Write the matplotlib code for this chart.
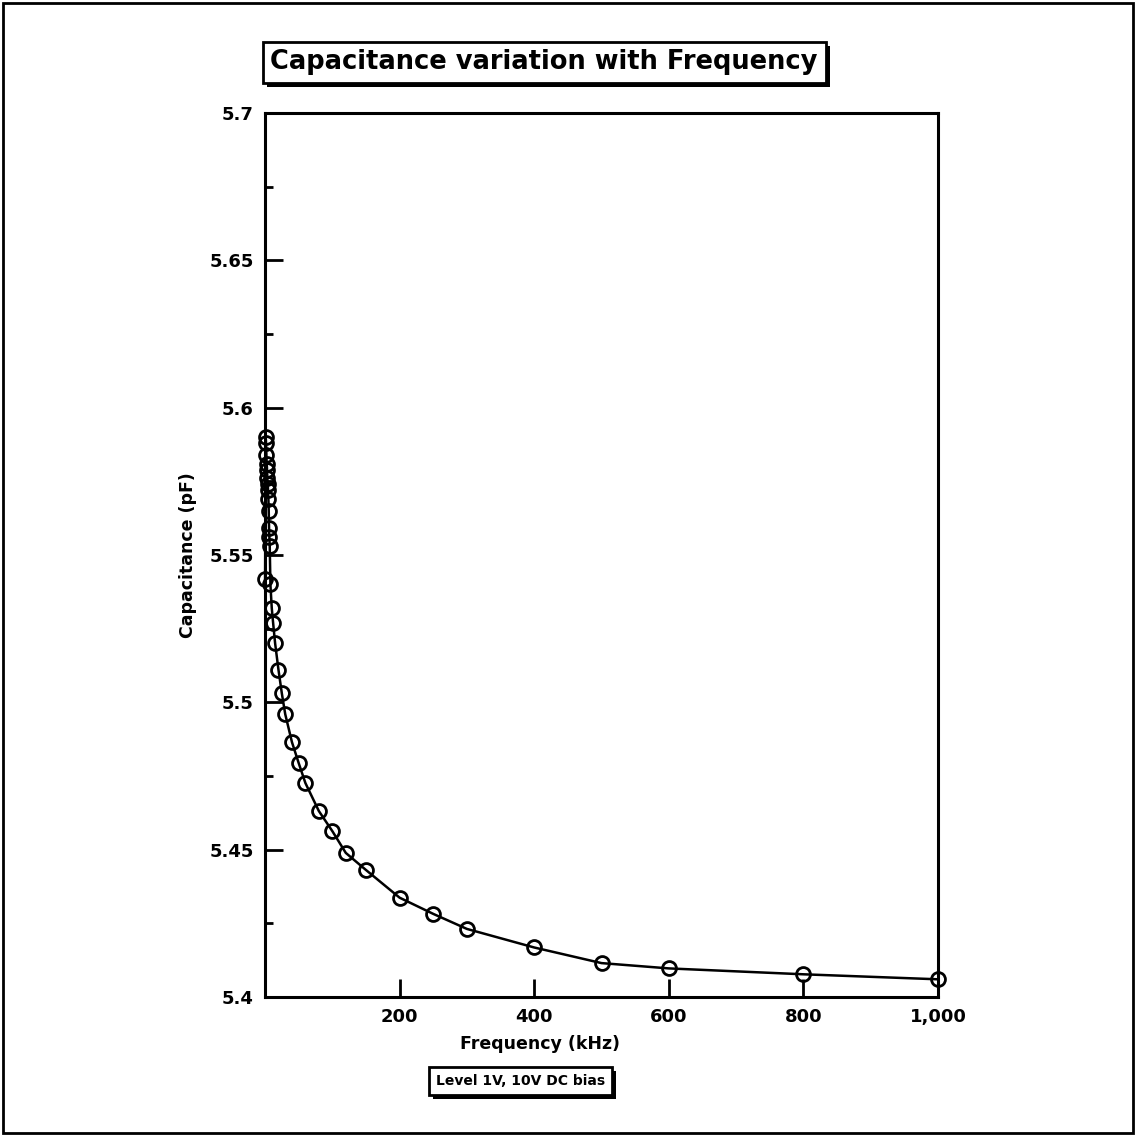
import matplotlib
matplotlib.use("Agg")
import matplotlib.pyplot as plt
import matplotlib.patheffects as pe
from matplotlib.patches import Rectangle
from matplotlib.ticker import FixedLocator, MultipleLocator

# Measured capacitance vs. frequency (1 V level, 10 V DC bias)
freq_khz = [0.1, 1, 1.5, 2, 2.5, 3, 3.5, 4, 4.5, 5, 5.5, 6, 6.5, 7,
            8, 10, 12, 15, 20, 25, 30, 40, 50, 60, 80, 100, 120, 150,
            200, 250, 300, 400, 500, 600, 800, 1000]
cap_pf = [5.542, 5.590, 5.588, 5.584, 5.581, 5.579, 5.576, 5.574, 5.572, 5.569,
          5.565, 5.559, 5.556, 5.553, 5.540, 5.532, 5.527, 5.520, 5.511, 5.503,
          5.496, 5.4865, 5.4794, 5.4726, 5.4631, 5.4563, 5.4489, 5.4431,
          5.4337, 5.4282, 5.4231, 5.4168, 5.4115, 5.4097, 5.4077, 5.4060]

x_ticks = [200, 400, 600, 800, 1000]
x_tick_labels = ["200", "400", "600", "800", "1,000"]
y_ticks = [5.4, 5.45, 5.5, 5.55, 5.6, 5.65, 5.7]
y_tick_labels = ["5.4", "5.45", "5.5", "5.55", "5.6", "5.65", "5.7"]

title_text = "Capacitance variation with Frequency"
x_label = "Frequency (kHz)"
y_label = "Capacitance (pF)"
note_text = "Level 1V, 10V DC bias"

plt.rcParams["font.family"] = ["DejaVu Sans"]
plt.rcParams["font.weight"] = "bold"

fig = plt.figure(figsize=(11.36, 11.35), dpi=100)
ax = fig.add_axes([0.2333, 0.1216, 0.5924, 0.7788])

ax.plot(freq_khz, cap_pf, color="black", lw=1.8, marker="o", ms=10,
        mfc="none", mec="black", mew=2.0, clip_on=False, zorder=3)

ax.set_xlim(0, 1000)
ax.set_ylim(5.4, 5.7)

ax.xaxis.set_major_locator(FixedLocator(x_ticks))
ax.set_xticklabels(x_tick_labels, fontsize=13, fontweight="bold")
ax.yaxis.set_major_locator(FixedLocator(y_ticks))
ax.set_yticklabels(y_tick_labels, fontsize=13, fontweight="bold")
ax.yaxis.set_minor_locator(MultipleLocator(0.025))

ax.tick_params(axis="both", which="major", direction="in", length=13,
               width=2, pad=8, colors="black")
ax.tick_params(axis="y", which="minor", direction="in", length=6, width=2)
ax.tick_params(top=False, right=False, which="both")
for s in ax.spines.values():
    s.set_linewidth(2.2)

fig.text(0.1655, 0.5108, y_label, rotation=90, ha="center",
         va="center", fontsize=12.5, fontweight="bold")
fig.text(0.475, 0.080, x_label, ha="center", va="center",
         fontsize=12.5, fontweight="bold")

shadow = [pe.SimplePatchShadow(offset=(3, -3), shadow_rgbFace="black",
                               alpha=1.0), pe.Normal()]

t = fig.text(0.479, 0.945, title_text, ha="center", va="center",
             fontsize=18.5, fontweight="bold",
             bbox=dict(boxstyle="square,pad=0.3", fc="white", ec="black",
                       lw=2))
t.get_bbox_patch().set_path_effects(shadow)

n = fig.text(0.458, 0.0476, note_text, ha="center", va="center",
             fontsize=10, fontweight="bold",
             bbox=dict(boxstyle="square,pad=0.5", fc="white", ec="black",
                       lw=2))
n.get_bbox_patch().set_path_effects(shadow)

# page frame
fig.patches.append(Rectangle((0.003, 0.002), 0.994, 0.995,
                             transform=fig.transFigure, fill=False,
                             lw=2, ec="black"))

fig.savefig("out.png", dpi=100)
